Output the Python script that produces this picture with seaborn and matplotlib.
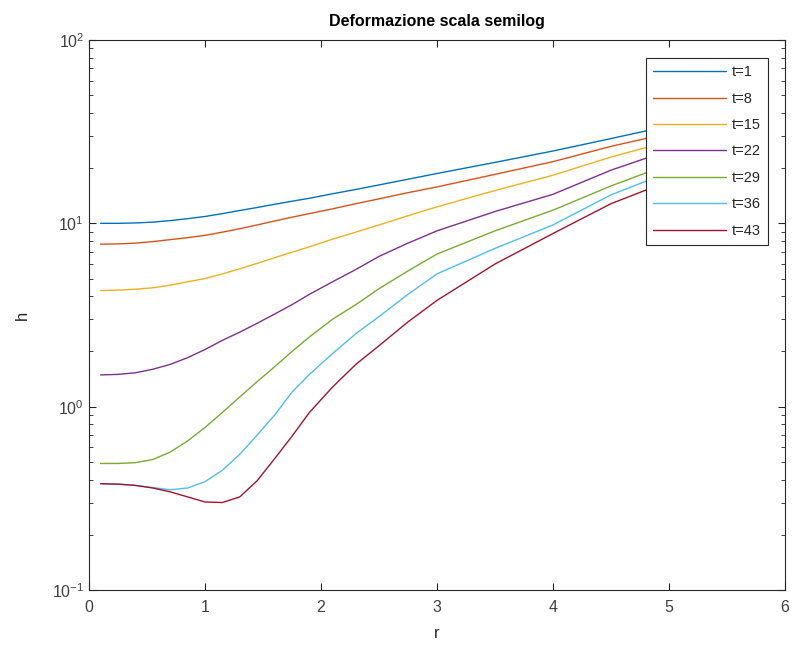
import numpy as np
import pandas as pd
import matplotlib
matplotlib.use("Agg")
import matplotlib.pyplot as plt
import seaborn as sns

r_values = [0.1, 0.25, 0.4, 0.55, 0.7, 0.85, 1.0, 1.15, 1.3, 1.45, 1.6, 1.75, 1.9,
            2.1, 2.3, 2.5, 2.75, 3.0, 3.5, 4.0, 4.5, 5.0]
labels = ["t=1", "t=8", "t=15", "t=22", "t=29", "t=36", "t=43"]
h_t1 = [10.0, 10.0, 10.05, 10.15, 10.35, 10.6, 10.9, 11.3, 11.75, 12.2, 12.7, 13.2, 13.7,
        14.5, 15.3, 16.2, 17.4, 18.7, 21.5, 24.8, 29.0, 34.0]
h_t8 = [7.70, 7.72, 7.8, 7.95, 8.15, 8.35, 8.6, 8.95, 9.35, 9.8, 10.3, 10.8, 11.3,
        12.0, 12.8, 13.6, 14.7, 15.8, 18.5, 21.7, 26.3, 31.0]
h_t15 = [4.30, 4.32, 4.37, 4.45, 4.6, 4.8, 5.0, 5.3, 5.65, 6.05, 6.5, 6.95, 7.45,
         8.2, 8.95, 9.8, 11.0, 12.3, 15.1, 18.3, 23.0, 28.0]
h_t22 = [1.49, 1.50, 1.53, 1.60, 1.70, 1.85, 2.05, 2.3, 2.55, 2.85, 3.2, 3.6, 4.1,
         4.8, 5.6, 6.6, 7.8, 9.1, 11.6, 14.4, 19.5, 25.0]
h_t29 = [0.49, 0.49, 0.495, 0.515, 0.565, 0.65, 0.77, 0.93, 1.13, 1.37, 1.65, 2.0, 2.4,
         3.0, 3.6, 4.4, 5.5, 6.8, 9.1, 11.8, 16.0, 21.0]
h_t36 = [0.380, 0.378, 0.372, 0.362, 0.352, 0.360, 0.39, 0.45, 0.55, 0.70, 0.90, 1.2, 1.5,
         1.95, 2.5, 3.1, 4.1, 5.3, 7.3, 9.8, 14.3, 19.0]
h_t43 = [0.380, 0.378, 0.372, 0.360, 0.343, 0.322, 0.302, 0.300, 0.322, 0.395, 0.52, 0.69, 0.93,
         1.28, 1.7, 2.15, 2.9, 3.8, 6.0, 8.8, 12.8, 17.0]
series = [h_t1, h_t8, h_t15, h_t22, h_t29, h_t36, h_t43]
colors = ["#0072BD", "#D95319", "#EDB120", "#7E2F8E", "#77AC30", "#4DBEEE", "#A2142F"]

df = pd.DataFrame({
    "r": np.tile(r_values, len(labels)),
    "h": np.concatenate(series),
    "t": np.repeat(labels, len(r_values)),
})

sns.set_theme(style="ticks")
plt.rcParams["font.family"] = ["Liberation Sans", "DejaVu Sans"]

fig = plt.figure(figsize=(7.92, 6.59), dpi=100)
ax = fig.add_axes([89/792, 69/659, 696/792, 550/659])
sns.lineplot(data=df, x="r", y="h", hue="t", palette=dict(zip(labels, colors)),
             hue_order=labels, linewidth=1.0, ax=ax, legend=True, sort=False)
ax.set_yscale("log")
ax.set_xlim(0, 6)
ax.set_ylim(0.1, 100)
ax.set_xticks([0, 1, 2, 3, 4, 5, 6])
ax.set_xlabel("r", fontsize=12, color="#262626", labelpad=8)
ax.set_ylabel("h", fontsize=12, color="#262626", labelpad=16)
ax.set_title("Deformazione scala semilog", fontsize=11.5, fontweight="bold", pad=10, color="#000000")

for s in ax.spines.values():
    s.set_visible(True)
    s.set_color("#262626")
    s.set_linewidth(0.8)
ax.tick_params(which="both", direction="in", top=True, right=True, colors="#262626",
               labelsize=11.5, labelcolor="#404040")
ax.tick_params(which="major", length=5, width=0.8)
ax.tick_params(which="minor", length=3, width=0.6)
ax.tick_params(axis="x", which="minor", top=False, bottom=False)
ax.tick_params(axis="x", pad=7)

leg = ax.legend(loc="upper right", bbox_to_anchor=(768/792, 1 - 58/659),
                bbox_transform=fig.transFigure, fontsize=10.5, handlelength=5.0,
                labelspacing=0.85, handletextpad=0.4, borderpad=0.5, borderaxespad=0,
                fancybox=False, framealpha=1, edgecolor="#262626", title=None)
leg.get_frame().set_linewidth(0.8)

fig.savefig("out.png", dpi=100, facecolor="white")
